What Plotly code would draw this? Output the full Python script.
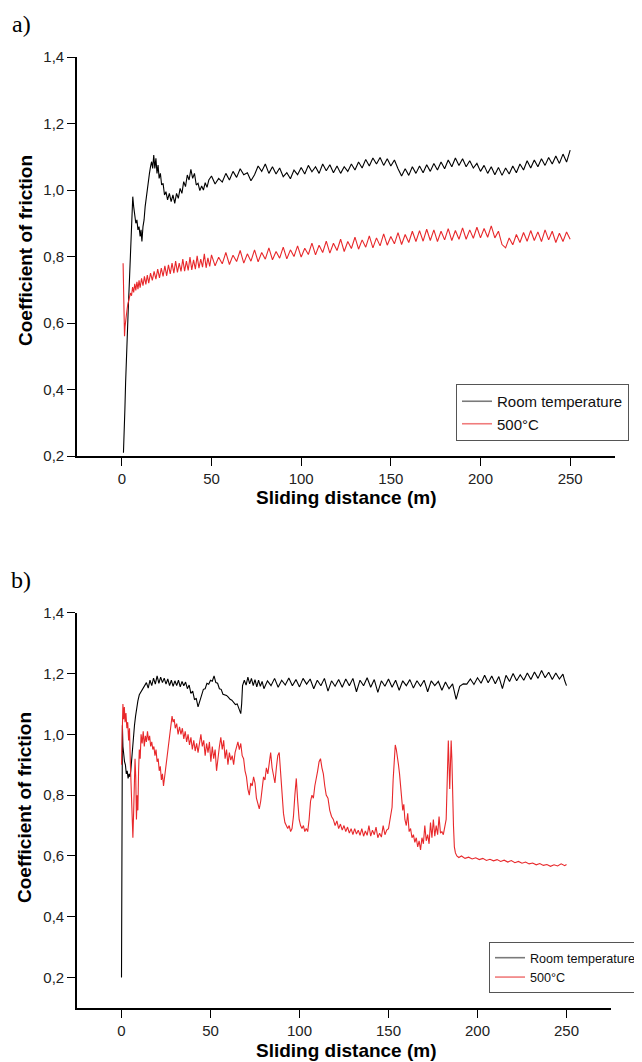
"""Coefficient of friction vs sliding distance, two panels (a: top, b: bottom)."""

import plotly.graph_objects as go

# --------------------------------------------------------------------------- #
# Data: (sliding distance m, coefficient of friction)
# --------------------------------------------------------------------------- #
A_ROOM = [
    (0.9, 0.21), (1.3, 0.26), (1.7, 0.34), (2.1, 0.42), (2.5, 0.50), (2.9, 0.56),
    (3.3, 0.60), (3.7, 0.66), (4.1, 0.71), (4.5, 0.76), (4.9, 0.80), (5.3, 0.86),
    (5.7, 0.93), (6.1, 0.98), (6.6, 0.95), (7.2, 0.925), (7.8, 0.90), (8.4, 0.91),
    (9.0, 0.88), (9.6, 0.89), (10.2, 0.86), (10.7, 0.88), (11.2, 0.845), (11.8, 0.89),
    (12.4, 0.91), (13.0, 0.95), (13.6, 0.98), (14.2, 1.00), (14.8, 1.03), (15.4, 1.05),
    (16.0, 1.07), (16.6, 1.085), (17.2, 1.065), (17.8, 1.105), (18.4, 1.065), (19.0, 1.095),
    (19.6, 1.05), (20.2, 1.075), (20.8, 1.035), (21.5, 1.05), (22.2, 1.015), (23.0, 1.02),
    (23.8, 0.985), (24.6, 0.995), (25.5, 0.97), (26.5, 0.99), (27.5, 0.965), (28.5, 0.985),
    (29.5, 0.96), (30.5, 0.99), (31.5, 0.975), (32.5, 1.005), (33.5, 0.99), (34.5, 1.025),
    (35.5, 1.01), (36.5, 1.045), (37.5, 1.03), (38.5, 1.062), (39.5, 1.035), (40.5, 1.05),
    (41.5, 1.015), (42.5, 1.02), (43.5, 0.998), (44.5, 1.012), (45.5, 1.0), (46.5, 1.022),
    (47.5, 1.008), (48.5, 1.03),
    (50, 1.042), (52, 1.018), (54, 1.035), (56, 1.024), (58, 1.050), (60, 1.030),
    (62, 1.056), (64, 1.038), (66, 1.064), (68, 1.046), (70, 1.052), (72, 1.028),
    (74, 1.046), (76, 1.072), (78, 1.056), (80, 1.078), (82, 1.050), (84, 1.070),
    (86, 1.048), (88, 1.066), (90, 1.040), (92, 1.052), (94, 1.034), (96, 1.060),
    (98, 1.046), (100, 1.068), (102, 1.048), (104, 1.074), (106, 1.055), (108, 1.070),
    (110, 1.050), (112, 1.078), (114, 1.058), (116, 1.076), (118, 1.052), (120, 1.072),
    (122, 1.050), (124, 1.070), (126, 1.056), (128, 1.078), (130, 1.060), (132, 1.084),
    (134, 1.066), (136, 1.092), (138, 1.072), (140, 1.096), (142, 1.078), (144, 1.098),
    (146, 1.074), (148, 1.094), (150, 1.072), (152, 1.090), (154, 1.064), (156, 1.042),
    (158, 1.064), (160, 1.044), (162, 1.070), (164, 1.050), (166, 1.072), (168, 1.052),
    (170, 1.076), (172, 1.056), (174, 1.080), (176, 1.060), (178, 1.084), (180, 1.064),
    (182, 1.090), (184, 1.070), (186, 1.096), (188, 1.074), (190, 1.094), (192, 1.070),
    (194, 1.088), (196, 1.066), (198, 1.080), (200, 1.056), (202, 1.074), (204, 1.050),
    (206, 1.070), (208, 1.046), (210, 1.068), (212, 1.044), (214, 1.066), (216, 1.048),
    (218, 1.072), (220, 1.052), (222, 1.078), (224, 1.060), (226, 1.088), (228, 1.066),
    (230, 1.090), (232, 1.070), (234, 1.094), (236, 1.074), (238, 1.098), (240, 1.078),
    (242, 1.102), (244, 1.080), (246, 1.108), (248, 1.084), (250, 1.120),
]

A_HOT = [
    (0.7, 0.78), (0.9, 0.74), (1.1, 0.66), (1.3, 0.58), (1.5, 0.56), (1.8, 0.59),
    (2.1, 0.60), (2.5, 0.625), (2.9, 0.64), (3.3, 0.655), (3.8, 0.665), (4.3, 0.68),
    (4.8, 0.69), (5.4, 0.682), (6.0, 0.708), (6.6, 0.692), (7.2, 0.718), (7.8, 0.698),
    (8.4, 0.724), (9.0, 0.702), (9.6, 0.728), (10.2, 0.706), (11.0, 0.734), (11.8, 0.712),
    (12.6, 0.740), (13.4, 0.716), (14.2, 0.744), (15.0, 0.72),
    (16, 0.750), (17, 0.728), (18, 0.755), (19, 0.732), (20, 0.762), (21, 0.736),
    (22, 0.765), (23, 0.740), (24, 0.772), (25, 0.742), (26, 0.775), (27, 0.748),
    (28, 0.780), (29, 0.750), (30, 0.786), (31, 0.752), (32, 0.780), (33, 0.755),
    (34, 0.792), (35, 0.756), (36, 0.786), (37, 0.758), (38, 0.798), (39, 0.760),
    (40, 0.790), (41, 0.762), (42, 0.802), (43, 0.765), (44, 0.792), (45, 0.768),
    (46, 0.808), (47, 0.766), (48, 0.796), (49, 0.770),
    (50, 0.805), (52, 0.772), (54, 0.798), (56, 0.778), (58, 0.812), (60, 0.776),
    (62, 0.804), (64, 0.785), (66, 0.818), (68, 0.780), (70, 0.808), (72, 0.786),
    (74, 0.820), (76, 0.784), (78, 0.812), (80, 0.792), (82, 0.826), (84, 0.790),
    (86, 0.815), (88, 0.795), (90, 0.828), (92, 0.793), (94, 0.820), (96, 0.800),
    (98, 0.832), (100, 0.798), (102, 0.825), (104, 0.806), (106, 0.840), (108, 0.805),
    (110, 0.834), (112, 0.812), (114, 0.846), (116, 0.810), (118, 0.840), (120, 0.818),
    (122, 0.852), (124, 0.815), (126, 0.845), (128, 0.824), (130, 0.858), (132, 0.822),
    (134, 0.850), (136, 0.828), (138, 0.862), (140, 0.826), (142, 0.856), (144, 0.832),
    (146, 0.868), (148, 0.834), (150, 0.860), (152, 0.838), (154, 0.872), (156, 0.836),
    (158, 0.866), (160, 0.842), (162, 0.876), (164, 0.845), (166, 0.878), (168, 0.846),
    (170, 0.882), (172, 0.848), (174, 0.880), (176, 0.845), (178, 0.876), (180, 0.850),
    (182, 0.884), (184, 0.848), (186, 0.878), (188, 0.852), (190, 0.886), (192, 0.852),
    (194, 0.880), (196, 0.855), (198, 0.888), (200, 0.856), (202, 0.884), (204, 0.858),
    (206, 0.892), (208, 0.856), (210, 0.876), (212, 0.836), (214, 0.826), (216, 0.856),
    (218, 0.835), (220, 0.866), (222, 0.842), (224, 0.872), (226, 0.846), (228, 0.878),
    (230, 0.848), (232, 0.874), (234, 0.845), (236, 0.880), (238, 0.850), (240, 0.876),
    (242, 0.842), (244, 0.870), (246, 0.845), (248, 0.874), (250, 0.852),
]

B_ROOM = [
    (0.0, 0.20), (0.1, 0.40), (0.2, 0.62), (0.3, 0.80), (0.4, 0.88), (0.5, 1.03),
    (0.8, 0.96), (1.2, 0.93), (1.7, 0.91), (2.2, 0.90), (2.7, 0.87), (3.2, 0.88),
    (3.7, 0.855), (4.2, 0.87), (4.7, 0.86), (5.2, 0.88), (5.7, 0.92), (6.2, 0.97),
    (6.7, 1.00), (7.3, 1.03), (7.9, 1.06), (8.5, 1.09), (9.2, 1.11), (10, 1.13),
    (11, 1.14), (12, 1.15), (13, 1.162), (14, 1.17), (15, 1.152), (16, 1.178),
    (17, 1.16), (18, 1.185), (19, 1.165), (20, 1.192), (21, 1.168), (22, 1.188),
    (23, 1.17), (24, 1.185), (25, 1.165), (26, 1.182), (27, 1.16), (28, 1.178),
    (29, 1.158), (30, 1.176), (31, 1.16), (32, 1.178), (33, 1.156), (34, 1.174),
    (35, 1.16), (36, 1.172), (37, 1.15), (38, 1.162), (39, 1.135), (40, 1.142),
    (41, 1.115), (42, 1.118), (43, 1.09), (44, 1.112), (45, 1.128), (46, 1.148),
    (47, 1.15), (48, 1.168), (49, 1.165), (50, 1.178), (51, 1.175), (52, 1.192),
    (53, 1.17), (54, 1.168), (55, 1.15), (56, 1.148), (57, 1.132), (58, 1.13),
    (59, 1.128), (60, 1.122), (61, 1.115), (62, 1.112), (63, 1.105), (64, 1.098),
    (65, 1.1), (66, 1.082), (67, 1.068), (67.5, 1.10), (68, 1.16), (69, 1.178),
    (70, 1.162), (71, 1.188), (72, 1.166), (73, 1.184), (74, 1.16), (75, 1.18),
    (76, 1.156), (77, 1.178), (78, 1.158), (79, 1.174), (80, 1.15),
    (82, 1.176), (84, 1.16), (86, 1.184), (88, 1.155), (90, 1.178), (92, 1.162),
    (94, 1.185), (96, 1.16), (98, 1.18), (100, 1.156), (102, 1.184), (104, 1.165),
    (106, 1.182), (108, 1.15), (110, 1.178), (112, 1.16), (114, 1.184), (116, 1.142),
    (118, 1.176), (120, 1.158), (122, 1.18), (124, 1.155), (126, 1.182), (128, 1.16),
    (130, 1.184), (132, 1.14), (134, 1.178), (136, 1.16), (138, 1.186), (140, 1.155),
    (142, 1.18), (144, 1.138), (146, 1.176), (148, 1.158), (150, 1.182), (152, 1.155),
    (154, 1.178), (156, 1.145), (158, 1.176), (160, 1.16), (162, 1.18), (164, 1.152),
    (166, 1.176), (168, 1.158), (170, 1.178), (172, 1.14), (174, 1.176), (176, 1.16),
    (178, 1.174), (180, 1.145), (182, 1.172), (184, 1.15), (186, 1.166), (188, 1.115),
    (190, 1.158), (192, 1.166), (194, 1.165), (196, 1.182), (198, 1.164), (200, 1.186),
    (202, 1.168), (204, 1.194), (206, 1.17), (208, 1.192), (210, 1.166), (212, 1.19),
    (214, 1.15), (216, 1.194), (218, 1.174), (220, 1.2), (222, 1.176), (224, 1.196),
    (226, 1.178), (228, 1.202), (230, 1.18), (232, 1.205), (234, 1.184), (236, 1.21),
    (238, 1.186), (240, 1.204), (242, 1.18), (244, 1.202), (246, 1.182), (248, 1.198),
    (249, 1.176), (250, 1.16),
]

B_HOT = [
    (0.0, 0.90), (0.4, 1.06), (0.8, 1.10), (1.2, 1.05), (1.6, 1.09), (2.0, 1.04),
    (2.5, 1.07), (3.0, 1.02), (3.5, 1.04), (4.0, 0.98), (4.5, 1.02), (5.0, 0.90),
    (5.5, 0.78), (6.0, 0.70), (6.4, 0.66), (6.8, 0.74), (7.2, 0.82), (7.6, 0.92),
    (8.0, 0.86), (8.4, 0.72), (8.8, 0.80), (9.2, 0.75), (9.6, 0.88), (10.0, 0.95),
    (10.5, 0.92), (11.0, 1.00), (11.6, 0.97), (12.2, 1.01), (12.8, 0.96), (13.4, 0.995),
    (14.0, 0.975), (14.6, 1.01), (15.2, 0.98), (15.8, 0.995), (16.4, 0.96), (17.0, 0.975),
    (17.6, 0.95), (18.2, 0.96), (18.8, 0.93), (19.4, 0.95), (20.0, 0.91), (20.6, 0.92),
    (21.2, 0.88), (21.8, 0.895), (22.4, 0.85), (23.0, 0.87), (23.6, 0.83), (24.2, 0.86),
    (24.8, 0.87), (25.4, 0.92), (26.0, 0.95), (26.6, 0.98), (27.2, 1.01), (27.8, 1.03),
    (28.4, 1.06), (29.0, 1.04), (29.6, 1.05), (30.2, 1.02), (31.0, 1.035), (31.8, 1.0),
    (32.6, 1.025), (33.4, 1.00), (34.2, 1.02), (35.0, 0.985), (35.8, 1.01), (36.6, 0.975),
    (37.4, 1.0), (38.2, 0.965), (39.0, 0.99), (39.8, 0.95), (40.6, 0.98), (41.4, 0.945),
    (42.2, 0.97), (43.0, 0.94), (43.8, 0.965), (44.6, 1.0), (45.4, 0.96), (46.2, 0.98),
    (47.0, 0.93), (47.8, 0.97), (48.6, 0.94), (49.4, 0.975), (50.2, 0.91), (51.0, 0.96),
    (51.8, 0.92), (52.6, 0.95), (53.4, 0.88), (54.2, 0.93), (55.0, 0.96), (55.8, 0.99),
    (56.6, 0.95), (57.4, 0.98), (58.2, 0.92), (59.0, 0.95), (59.8, 0.90), (60.6, 0.94),
    (61.4, 0.915), (62.2, 0.93), (63.0, 0.90), (63.8, 0.94), (64.6, 0.96), (65.4, 0.975),
    (66.2, 0.95), (67.0, 0.97), (67.8, 0.93), (68.6, 0.92), (69.4, 0.88), (70.2, 0.86),
    (71.0, 0.82), (71.8, 0.80), (72.6, 0.84), (73.4, 0.83), (74.2, 0.86), (75.0, 0.84),
    (75.8, 0.79), (76.6, 0.77), (77.4, 0.755), (78.2, 0.78), (79.0, 0.83), (79.8, 0.86),
    (80.6, 0.85), (81.4, 0.89), (82.2, 0.87), (83.0, 0.90), (83.8, 0.94), (84.6, 0.89),
    (85.4, 0.86), (86.2, 0.84), (87.0, 0.89), (87.8, 0.93), (88.6, 0.94), (89.4, 0.86),
    (90.2, 0.78), (91.0, 0.74), (91.8, 0.71), (92.6, 0.70), (93.4, 0.69), (94.2, 0.70),
    (95.0, 0.68), (95.8, 0.69), (96.6, 0.73), (97.4, 0.80), (98.2, 0.855), (99.0, 0.78),
    (99.8, 0.72), (100.6, 0.70), (101.4, 0.69), (102.2, 0.70), (103.0, 0.68), (103.8, 0.69),
    (104.6, 0.68), (105.4, 0.72), (106.2, 0.78), (107.0, 0.80), (107.8, 0.79), (108.6, 0.83),
    (109.4, 0.85), (110.2, 0.88), (111.0, 0.91), (111.8, 0.92), (112.6, 0.89), (113.4, 0.87),
    (114.2, 0.83), (115.0, 0.80), (116.0, 0.79), (117.0, 0.75), (118.0, 0.73), (119.0, 0.72),
    (120, 0.70), (121, 0.715), (122, 0.69), (123, 0.705), (124, 0.685), (125, 0.70),
    (126, 0.68), (127, 0.695), (128, 0.675), (129, 0.69), (130, 0.67), (131, 0.69),
    (132, 0.672), (133, 0.685), (134, 0.668), (135, 0.69), (136, 0.665), (137, 0.682),
    (138, 0.668), (139, 0.70), (140, 0.665), (141, 0.685), (142, 0.67), (143, 0.695),
    (144, 0.66), (145, 0.675), (146, 0.662), (147, 0.70), (148, 0.67), (149, 0.685),
    (150, 0.69), (151, 0.72), (152, 0.76), (152.6, 0.85), (153.2, 0.93), (153.8, 0.965),
    (154.4, 0.95), (155.0, 0.93), (155.6, 0.90), (156.2, 0.87), (156.8, 0.82), (157.4, 0.78),
    (158.0, 0.75), (158.6, 0.77), (159.2, 0.72), (160.0, 0.70), (160.8, 0.74), (161.6, 0.68),
    (162.4, 0.69), (163.2, 0.66), (164.0, 0.67), (164.8, 0.645), (165.6, 0.66), (166.4, 0.63),
    (167.2, 0.65), (168.0, 0.62), (168.8, 0.66), (169.6, 0.64), (170.4, 0.70), (171.2, 0.65),
    (172.0, 0.67), (172.8, 0.64), (173.6, 0.71), (174.4, 0.66), (175.2, 0.72), (176.0, 0.665),
    (176.8, 0.70), (177.6, 0.67), (178.4, 0.73), (179.2, 0.675), (180.0, 0.68), (180.8, 0.67),
    (181.6, 0.69), (182.4, 0.72), (183.0, 0.85), (183.6, 0.98), (184.0, 0.90), (184.4, 0.82),
    (184.8, 0.90), (185.2, 0.98), (185.6, 0.92), (186.0, 0.80), (186.5, 0.70), (187.0, 0.63),
    (187.6, 0.61), (188.4, 0.60), (189.5, 0.595), (191, 0.600), (193, 0.592), (195, 0.596),
    (197, 0.590), (199, 0.594), (201, 0.588), (203, 0.592), (205, 0.585), (207, 0.589),
    (209, 0.584), (211, 0.588), (213, 0.582), (215, 0.586), (217, 0.58), (219, 0.585),
    (221, 0.578), (223, 0.582), (225, 0.576), (227, 0.58), (229, 0.574), (231, 0.577),
    (233, 0.571), (235, 0.575), (237, 0.569), (239, 0.572), (241, 0.566), (243, 0.571),
    (245, 0.567), (247, 0.574), (249, 0.568), (250, 0.572),
]

SERIES_NAMES = ["Room temperature", "500°C"]
X_TICKS = [0, 50, 100, 150, 200, 250]
Y_TICKS = [0.2, 0.4, 0.6, 0.8, 1.0, 1.2, 1.4]
Y_TICK_TEXT = ["0,2", "0,4", "0,6", "0,8", "1,0", "1,2", "1,4"]

# --------------------------------------------------------------------------- #
# Styling
# --------------------------------------------------------------------------- #
# the page body adds an 8px margin, so the figure is that much smaller and
# positions below are given in window pixels and shifted back
OFFSET = 8
W, H = 642 - OFFSET, 1062 - OFFSET
FONT = "Arial, Liberation Sans, sans-serif"
SERIF = "Times New Roman, Liberation Serif, serif"
BLACK = "#000000"
RED = "#e8282b"


def unzip(pairs):
    return [p[0] for p in pairs], [p[1] for p in pairs]


def px_x(v):
    return (v - OFFSET) / W


def px_y(v):
    return 1 - (v - OFFSET) / H


def axis_style(**extra):
    base = dict(
        showline=True, linecolor=BLACK, linewidth=1.6, mirror=False,
        ticks="outside", ticklen=8, tickwidth=1.4, tickcolor=BLACK,
        showgrid=False, zeroline=False,
        tickfont=dict(family=FONT, size=15, color="#222"),
    )
    base.update(extra)
    return base


fig = go.Figure()

panels = [
    ("x", "y", "legend", A_ROOM, A_HOT),
    ("x2", "y2", "legend2", B_ROOM, B_HOT),
]
for xa, ya, leg, room, hot in panels:
    for pairs, color in ((room, BLACK), (hot, RED)):
        xs, ys = unzip(pairs)
        fig.add_trace(go.Scatter(
            x=xs, y=ys, mode="lines", xaxis=xa, yaxis=ya, showlegend=False,
            line=dict(color=color, width=1.1),
        ))
    # legend swatches look pale in the original, so draw them separately
    for name, color in zip(SERIES_NAMES, ("#7a7a7a", "#f07c7c")):
        fig.add_trace(go.Scatter(
            x=[None], y=[None], mode="lines", xaxis=xa, yaxis=ya, name=name,
            legend=leg, line=dict(color=color, width=1.6),
        ))

fig.update_layout(
    width=W, height=H,
    margin=dict(l=0, r=0, t=0, b=0, autoexpand=False),
    paper_bgcolor="white", plot_bgcolor="white",
    xaxis=axis_style(domain=[px_x(77), px_x(615)], range=[-25, 275],
                     tickvals=X_TICKS, anchor="y"),
    yaxis=axis_style(domain=[px_y(456), px_y(57)], range=[0.2, 1.4],
                     tickvals=Y_TICKS, ticktext=Y_TICK_TEXT, anchor="x"),
    xaxis2=axis_style(domain=[px_x(77), px_x(611)], range=[-25, 275],
                      tickvals=X_TICKS, anchor="y2"),
    yaxis2=axis_style(domain=[px_y(1008), px_y(612.7)], range=[0.1, 1.4],
                      tickvals=Y_TICKS, ticktext=Y_TICK_TEXT, anchor="x2"),
    legend=dict(x=px_x(456), y=px_y(384), xanchor="left", yanchor="top",
                bordercolor="#555", borderwidth=1, bgcolor="white",
                font=dict(family=FONT, size=15, color="#111"),
                tracegroupgap=0, itemwidth=30),
    legend2=dict(x=px_x(489), y=px_y(942), xanchor="left", yanchor="top",
                 bordercolor="#555", borderwidth=1, bgcolor="white",
                 font=dict(family=FONT, size=12.6, color="#111"),
                 tracegroupgap=0, itemwidth=30),
    showlegend=True,
)

title_font = dict(family=FONT, size=19, color=BLACK)
labels = [
    # (text, x px, y px, angle, font)
    ("<b>Coefficient of friction</b>", 25, 251, -90, title_font),
    ("<b>Sliding distance (m)</b>", 346, 498, 0, title_font),
    ("<b>Coefficient of friction</b>", 24, 808, -90, title_font),
    ("<b>Sliding distance (m)</b>", 346, 1050, 0, title_font),
    ("a)", 21, 24, 0, dict(family=SERIF, size=24, color=BLACK)),
    ("b)", 21, 580, 0, dict(family=SERIF, size=24, color=BLACK)),
]
for text, x, y, angle, font in labels:
    fig.add_annotation(
        text=text, x=px_x(x), y=px_y(y), xref="paper", yref="paper",
        xanchor="center", yanchor="middle", showarrow=False,
        textangle=angle, font=font,
    )

fig.write_html("out.html")
